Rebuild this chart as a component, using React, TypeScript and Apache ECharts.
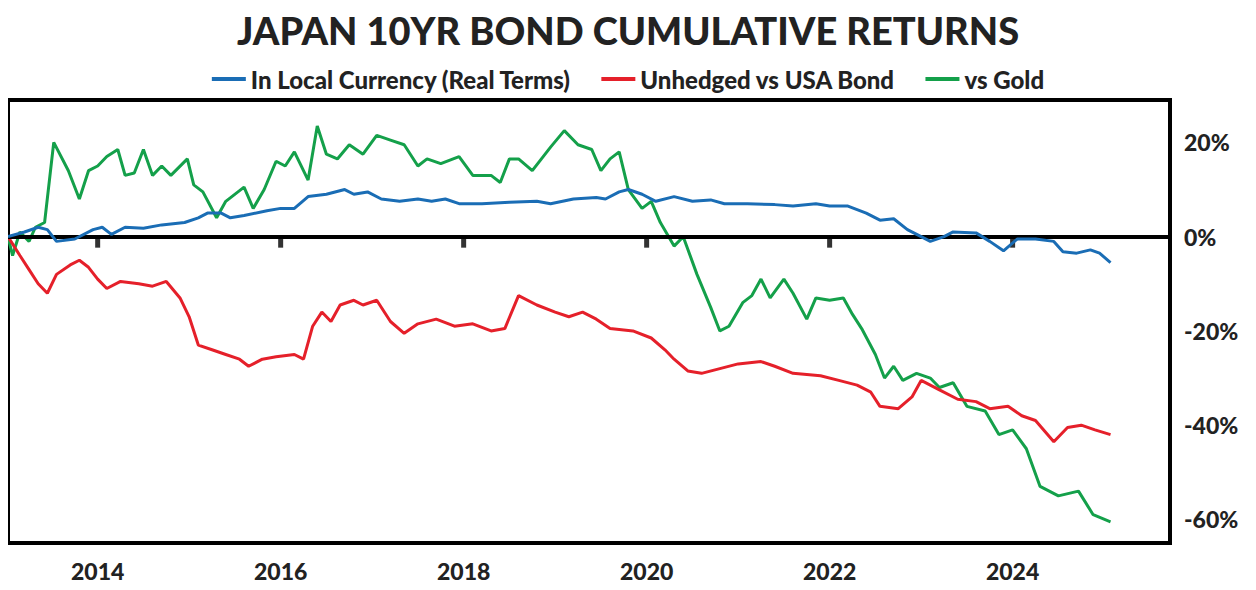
import React, { useEffect, useRef } from 'react';
import * as echarts from 'echarts';

const seriesNames = ['In Local Currency (Real Terms)', 'Unhedged vs USA Bond', 'vs Gold'];
const seriesColors = ['#1a6db5', '#e5202a', '#14a04a'];
const yTicks = [-60, -40, -20, 0, 20];
const xYears = [2014, 2016, 2018, 2020, 2022, 2024];

// [year, cumulative return %]
const localReal: number[][] = [
  [2013.02, 0], [2013.2, 1], [2013.35, 2], [2013.45, 1.5], [2013.55, -1], [2013.75, -0.5], [2013.95, 1.5],
  [2014.05, 2], [2014.15, 0.5], [2014.3, 2], [2014.5, 1.8], [2014.7, 2.5], [2014.95, 3], [2015.1, 4],
  [2015.2, 5], [2015.35, 5], [2015.45, 4], [2015.6, 4.5], [2015.85, 5.5], [2016.0, 6], [2016.15, 6],
  [2016.3, 8.5], [2016.5, 9], [2016.7, 10], [2016.8, 9], [2016.95, 9.5], [2017.1, 8], [2017.3, 7.5],
  [2017.5, 8], [2017.65, 7.5], [2017.8, 8], [2017.95, 7], [2018.2, 7], [2018.5, 7.3], [2018.8, 7.5],
  [2018.95, 7], [2019.2, 8], [2019.45, 8.3], [2019.55, 8], [2019.7, 9.5], [2019.8, 10], [2019.95, 9],
  [2020.1, 7.5], [2020.3, 8.5], [2020.5, 7.5], [2020.7, 7.8], [2020.85, 7], [2021.1, 7], [2021.4, 6.8],
  [2021.6, 6.5], [2021.85, 7], [2022.0, 6.5], [2022.2, 6.5], [2022.4, 5], [2022.55, 3.5], [2022.7, 3.8],
  [2022.85, 1.5], [2023.0, 0], [2023.1, -1], [2023.25, 0], [2023.35, 1], [2023.6, 0.8], [2023.75, -1],
  [2023.9, -3], [2024.05, -0.5], [2024.25, -0.5], [2024.45, -1], [2024.55, -3.2], [2024.7, -3.5],
  [2024.85, -2.8], [2024.95, -3.5], [2025.07, -5.5]
];

const unhedgedUsd: number[][] = [
  [2013.02, 0], [2013.15, -4], [2013.25, -7], [2013.35, -10], [2013.45, -12], [2013.55, -8], [2013.7, -6],
  [2013.8, -5], [2013.9, -6.5], [2014.0, -9], [2014.1, -11], [2014.25, -9.5], [2014.45, -10], [2014.6, -10.5],
  [2014.75, -9.5], [2014.9, -13], [2015.0, -17], [2015.1, -23], [2015.25, -24], [2015.4, -25], [2015.55, -26],
  [2015.65, -27.5], [2015.8, -26], [2015.95, -25.5], [2016.15, -25], [2016.25, -26], [2016.35, -19],
  [2016.45, -16], [2016.55, -18], [2016.65, -14.5], [2016.8, -13.5], [2016.9, -14.5], [2017.05, -13.5],
  [2017.2, -18], [2017.35, -20.5], [2017.5, -18.5], [2017.7, -17.5], [2017.9, -19], [2018.1, -18.5],
  [2018.3, -20], [2018.45, -19.5], [2018.6, -12.5], [2018.8, -14.5], [2019.0, -16], [2019.15, -17],
  [2019.3, -16], [2019.45, -17.5], [2019.6, -19.5], [2019.85, -20], [2020.05, -21.5], [2020.2, -24],
  [2020.3, -26], [2020.45, -28.5], [2020.6, -29], [2020.8, -28], [2021.0, -27], [2021.25, -26.5],
  [2021.4, -27.5], [2021.6, -29], [2021.9, -29.5], [2022.1, -30.5], [2022.3, -31.5], [2022.45, -33],
  [2022.55, -36], [2022.75, -36.5], [2022.9, -34], [2023.0, -30.5], [2023.2, -32.5], [2023.4, -34.5],
  [2023.6, -35], [2023.75, -36.5], [2023.95, -36], [2024.1, -38], [2024.25, -39], [2024.45, -43.5],
  [2024.6, -40.5], [2024.75, -40], [2024.9, -41], [2025.07, -42]
];

const vsGold: number[][] = [
  [2013.02, 0], [2013.07, -4], [2013.15, 1], [2013.25, -1], [2013.32, 2], [2013.42, 3], [2013.52, 20],
  [2013.68, 14], [2013.8, 8], [2013.9, 14], [2014.0, 15], [2014.1, 17], [2014.22, 18.5], [2014.3, 13],
  [2014.4, 13.5], [2014.5, 18.5], [2014.6, 13], [2014.7, 15], [2014.8, 13], [2014.98, 16.5], [2015.05, 11],
  [2015.15, 9.5], [2015.3, 4], [2015.4, 7.5], [2015.6, 10.5], [2015.7, 6], [2015.82, 10], [2015.95, 16],
  [2016.05, 15], [2016.15, 18], [2016.3, 12], [2016.4, 23.5], [2016.5, 17.5], [2016.62, 16.5],
  [2016.75, 19.5], [2016.9, 17.5], [2017.05, 21.5], [2017.2, 20.5], [2017.35, 19.5], [2017.5, 15],
  [2017.6, 16.5], [2017.75, 15.5], [2017.95, 17], [2018.1, 13], [2018.3, 13], [2018.4, 11.5],
  [2018.5, 16.5], [2018.6, 16.5], [2018.75, 14], [2018.95, 19], [2019.1, 22.5], [2019.25, 19.5],
  [2019.4, 18.5], [2019.5, 14], [2019.6, 16.5], [2019.7, 18], [2019.8, 10], [2019.95, 6], [2020.05, 7.5],
  [2020.15, 3], [2020.3, -2], [2020.4, 0], [2020.55, -8], [2020.7, -15], [2020.8, -20], [2020.9, -19],
  [2021.05, -14], [2021.15, -12.5], [2021.25, -9], [2021.35, -13], [2021.5, -9], [2021.6, -12],
  [2021.75, -17.5], [2021.85, -13], [2022.0, -13.5], [2022.15, -13], [2022.25, -16.5], [2022.35, -19.5],
  [2022.5, -25], [2022.6, -30], [2022.7, -27.5], [2022.8, -30.5], [2022.95, -29], [2023.1, -30],
  [2023.2, -32], [2023.35, -31], [2023.5, -36], [2023.7, -37], [2023.85, -42], [2024.0, -41],
  [2024.15, -45], [2024.3, -53], [2024.5, -55], [2024.72, -54], [2024.88, -59], [2025.07, -60.5]
];

const allData = [localReal, unhedgedUsd, vsGold];

export default function App() {
  const ref = useRef<HTMLDivElement | null>(null);

  useEffect(() => {
    if (!ref.current) return;
    const chart = echarts.init(ref.current, undefined, { renderer: 'svg' });
    const font = 'Lato, "DejaVu Sans", sans-serif';
    chart.setOption({
      animation: false,
      backgroundColor: '#fff',
      title: {
        text: 'JAPAN 10YR BOND CUMULATIVE RETURNS', left: 'center', top: -2,
        textStyle: { fontFamily: font, fontSize: 38, fontWeight: 900, color: '#222' }
      },
      legend: {
        top: 54, left: 'center', itemWidth: 34, itemHeight: 4, itemGap: 30, icon: 'rect',
        data: seriesNames,
        textStyle: { fontFamily: font, fontSize: 24, fontWeight: 900, color: '#222' }
      },
      grid: { left: 0, right: 78, top: 92, bottom: 34, show: true, borderColor: '#000', borderWidth: 4 },
      xAxis: {
        type: 'value', min: 2013.02, max: 2025.72, splitLine: { show: false },
        axisLine: { show: false }, axisTick: { show: false },
        axisLabel: {
          fontFamily: font, fontSize: 23, fontWeight: 900, color: '#222', margin: 16,
          customValues: xYears, formatter: (v: number) => String(Math.round(v))
        }
      },
      yAxis: {
        type: 'value', position: 'right', min: -65, max: 29,
        axisLine: { show: false }, axisTick: { show: false }, splitLine: { show: false },
        axisLabel: {
          customValues: yTicks, fontFamily: font, fontSize: 23, fontWeight: 900, color: '#222', margin: 14,
          formatter: (v: number) => `${v}%`
        }
      },
      series: [
        {
          type: 'scatter', data: xYears.map((y) => [y, 0]), symbol: 'rect', symbolSize: [5, 12],
          symbolOffset: [0, 5], itemStyle: { color: '#000' }, silent: true, z: 1,
          markLine: {
            silent: true, symbol: 'none', label: { show: false },
            lineStyle: { color: '#000', width: 4, type: 'solid' }, data: [{ yAxis: 0 }]
          }
        },
        ...allData.map((d, i) => ({
          name: seriesNames[i], type: 'line', data: d, showSymbol: false,
          lineStyle: { color: seriesColors[i], width: 3 }, itemStyle: { color: seriesColors[i] }, z: 5 - i
        }))
      ]
    });
    return () => chart.dispose();
  }, []);

  return <div ref={ref} style={{ width: 1240, height: 574 }} />;
}
